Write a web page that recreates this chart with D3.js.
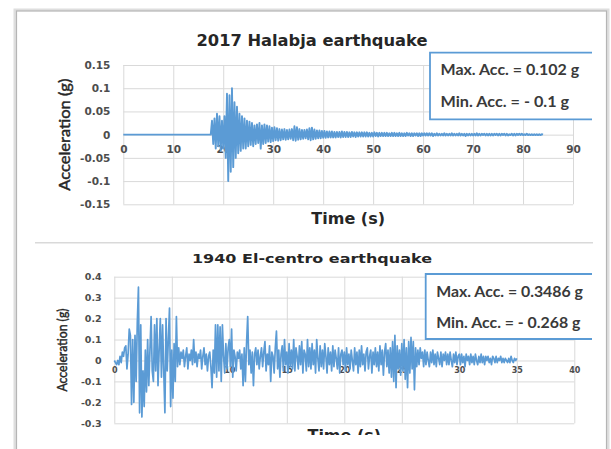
<!DOCTYPE html>
<meta charset="utf-8">
<title>Halabja and El-centro accelerograms</title>
<style>
  body { margin: 0; background: #fff; }
  .grid line { stroke: #d9d9d9; stroke-width: 1; }
  .grid path, .lbl path { display: none; }
  .lbl text { font-family: "DejaVu Sans", sans-serif; font-weight: bold; fill: #4d4d4d; }
  .trace { fill: none; stroke: #5b9bd5; stroke-linejoin: round; }
</style>
<script src="https://d3js.org/d3.v7.min.js"></script>
<body>
<script>
// 2017 Halabja record: flat until 17.5 s, then read every 0.25 s up to 84 s
var halabjaStart = 17.5, halabjaStep = 0.25;
var halabjaAcc = [
  0, 0.03, -0.02, 0.035,   -0.03, 0.045, -0.025, 0.04,   -0.035, 0.03, -0.03, 0.04,
  -0.05, 0.088, -0.10, 0.085,   -0.08, 0.10, -0.07, 0.07,   -0.05, 0.06, -0.04, 0.045,
  -0.035, 0.04, -0.03, 0.035,   -0.03, 0.03, -0.025, 0.028,   -0.022, 0.025, -0.025, 0.02,
  -0.02, 0.022, -0.018, 0.025,   -0.03, 0.02, -0.02, 0.022,   -0.018, 0.02, -0.015, 0.018,
  -0.016, 0.015, -0.014, 0.016,   -0.012, 0.014, -0.013, 0.012,   -0.012, 0.011, -0.01, 0.012,
  -0.011, 0.01, -0.01, 0.011,   -0.009, 0.012, -0.012, 0.018,   -0.013, 0.016, -0.011, 0.012,
  -0.01, 0.01, -0.009, 0.01,   -0.008, 0.011, -0.01, 0.014,   -0.012, 0.015, -0.01, 0.011,
  -0.009, 0.009, -0.008, 0.009,   -0.008, 0.008, -0.007, 0.008,   -0.007, 0.007, -0.006, 0.007,
  -0.006, 0.007, -0.006, 0.006,   -0.006, 0.006, -0.005, 0.006,   -0.006, 0.007, -0.005, 0.006,
  -0.005, 0.006, -0.005, 0.005,   -0.005, 0.006, -0.004, 0.005,   -0.005, 0.005, -0.004, 0.005,
  -0.004, 0.005, -0.004, 0.005,   -0.004, 0.005, -0.004, 0.004,   -0.004, 0.004, -0.004, 0.005,
  -0.003, 0.004, -0.004, 0.004,   -0.003, 0.004, -0.003, 0.004,   -0.003, 0.004, -0.003, 0.003,
  -0.003, 0.004, -0.003, 0.004,   -0.003, 0.003, -0.003, 0.004,   -0.003, 0.003, -0.003, 0.003,
  -0.003, 0.004, -0.002, 0.003,   -0.003, 0.003, -0.003, 0.003,   -0.002, 0.003, -0.003, 0.003,
  -0.003, 0.003, -0.002, 0.003,   -0.002, 0.003, -0.002, 0.003,   -0.002, 0.003, -0.003, 0.002,
  -0.002, 0.003, -0.002, 0.002,   -0.002, 0.002, -0.002, 0.003,   -0.002, 0.002, -0.002, 0.002,
  -0.002, 0.003, -0.002, 0.002,   -0.002, 0.002, -0.002, 0.003,   -0.002, 0.002, -0.002, 0.002,
  -0.003, 0.002, -0.002, 0.002,   -0.002, 0.002, -0.002, 0.002,   -0.002, 0.003, -0.002, 0.002,
  -0.002, 0.002, -0.001, 0.002,   -0.002, 0.002, -0.002, 0.002,   -0.002, 0.002, -0.002, 0.002,
  -0.001, 0.002, -0.002, 0.002,   -0.002, 0.002, -0.001, 0.002,   -0.002, 0.002, -0.002, 0.001,
  -0.001, 0.002, -0.002, 0.002,   -0.002, 0.002, -0.001, 0.002,   -0.001, 0.002, -0.001, 0.001,
  -0.001, 0.002, -0.001, 0.001,   -0.001, 0.001, -0.001, 0.001,   -0.001, 0.001, -0.001, 0.001,
  -0.001, 0.001, 0
];
var halabjaXTicks = [0, 10, 20, 30, 40, 50, 60, 70, 80, 90];
var halabjaYTicks = [-0.15, -0.1, -0.05, 0, 0.05, 0.1, 0.15];
var halabjaStats = ["Max. Acc. = 0.102 g", "Min. Acc. = - 0.1 g"];

// 1940 El-centro record, read every 0.1 s from 0 to 35 s
var elcentroStep = 0.1;
var elcentroAcc = [
  0, -0.01, -0.02, 0.00, -0.02, 0.02, -0.01, 0.04, 0.02, 0.06,
  0.07, -0.04, 0.03, 0.15, 0.12, -0.21, 0.10, -0.20, 0.12, -0.10,
  0.18, 0.35, -0.25, 0.17, -0.27, -0.05, -0.22, 0.05, -0.15, 0.10,
  -0.12, 0.05, 0.21, -0.05, -0.10, 0.17, -0.05, 0.20, -0.12, 0.05,
  0.20, -0.08, 0.17, -0.05, -0.25, 0.20, -0.05, 0.10, 0.25, -0.22,
  0.05, -0.18, 0.08, -0.10, 0.21, -0.03, 0.06, -0.02, 0.04, 0.01,
  0.05, -0.03, 0.02, 0.06, -0.04, 0.03, 0.00, 0.05, -0.02, 0.10,
  -0.01, 0.04, -0.03, 0.03, 0.01, 0.05, -0.04, 0.02, 0.06, -0.02,
  0.03, -0.05, 0.02, 0.04, -0.03, -0.13, 0.05, -0.06, 0.17, -0.08,
  0.17, -0.05, 0.16, -0.10, 0.17, 0.02, -0.06, 0.08, -0.04, 0.06,
  0.10, -0.03, 0.15, -0.08, 0.05, 0.02, -0.05, 0.04, 0.01, 0.05,
  -0.04, 0.03, -0.12, 0.06, -0.10, 0.08, 0.21, -0.02, 0.05, -0.06,
  0.04, -0.12, 0.03, 0.06, -0.02, 0.05, -0.04, 0.02, 0.06, -0.03,
  0.04, 0.09, -0.05, 0.03, -0.02, 0.07, -0.10, 0.04, 0.02, -0.06,
  0.06, 0.14, -0.04, 0.05, -0.08, 0.03, 0.07, -0.05, 0.10, -0.02,
  0.04, -0.06, 0.08, -0.03, 0.05, -0.04, 0.10, -0.05, 0.06, 0.02,
  -0.04, 0.07, -0.02, 0.09, -0.06, 0.05, 0.03, -0.05, 0.10, -0.03,
  0.06, -0.04, 0.08, -0.02, 0.05, -0.06, 0.10, 0.01, -0.05, 0.07,
  -0.03, 0.05, -0.04, 0.08, 0.02, -0.06, 0.06, -0.02, 0.04, -0.05,
  0.07, -0.03, 0.05, 0.01, -0.04, 0.06, -0.06, 0.03, 0.05, -0.02,
  0.04, -0.05, 0.06, -0.02, 0.03, -0.04, 0.05, 0.00, -0.05, 0.06,
  -0.02, 0.04, -0.06, 0.05, -0.03, 0.07, -0.02, 0.03, -0.05, 0.04,
  0.06, -0.04, 0.02, 0.05, -0.06, 0.04, -0.02, 0.06, -0.03, 0.04,
  -0.05, 0.07, -0.02, 0.05, -0.07, 0.04, 0.08, -0.03, 0.05, -0.06,
  0.06, -0.08, 0.09, -0.10, 0.12, -0.13, 0.07, -0.04, 0.05, -0.07,
  0.08, -0.05, 0.10, -0.09, 0.06, -0.13, 0.09, -0.06, 0.11, -0.04,
  0.09, -0.14, 0.06, -0.03, 0.05, -0.02, 0.06, 0.01, 0.04, -0.03,
  0.05, -0.02, 0.04, 0.00, -0.03, 0.04, -0.01, 0.05, -0.02, 0.03,
  -0.03, 0.04, 0.01, -0.02, 0.04, -0.03, 0.03, 0.00, 0.04, -0.02,
  0.03, -0.02, 0.04, 0.00, -0.03, 0.03, -0.01, 0.04, -0.02, 0.02,
  0.03, -0.02, 0.03, -0.01, 0.02, -0.03, 0.03, 0.00, 0.02, -0.02,
  0.03, -0.01, 0.02, -0.02, 0.03, 0.00, -0.02, 0.02, -0.01, 0.03,
  -0.01, 0.02, -0.02, 0.02, 0.00, 0.02, -0.01, 0.01, -0.02, 0.02,
  0.01, -0.01, 0.02, -0.01, 0.01, 0.00, 0.02, -0.01, 0.01, -0.01,
  0.01, 0.00, -0.01, 0.01, -0.01, 0.02, 0.00, -0.01, 0.01, 0.00,
  0.01
];
var elcentroXTicks = [0, 5, 10, 15, 20, 25, 30, 35, 40];
var elcentroYTicks = [-0.3, -0.2, -0.1, 0, 0.1, 0.2, 0.3, 0.4];
var elcentroStats = ["Max. Acc. = 0.3486 g", "Min. Acc. = - 0.268 g"];

var halabjaPts = [{t: 0, a: 0}].concat(halabjaAcc.map(function(a, i) {
  return {t: halabjaStart + i * halabjaStep, a: a};
}));
var elcentroPts = elcentroAcc.map(function(a, i) { return {t: i * elcentroStep, a: a}; });

var svg = d3.select("body").append("svg").attr("width", 611).attr("height", 449);

// outer frame with a soft shadow on the sides
svg.append("rect").attr("x", 15).attr("y", 10).attr("width", 593).attr("height", 470)
  .attr("fill", "none").attr("stroke", "#dedede").attr("stroke-width", 3);
svg.append("rect").attr("x", 16.5).attr("y", 11).attr("width", 590).attr("height", 470)
  .attr("fill", "#fff").attr("stroke", "#b5b5b5").attr("stroke-width", 1.2);

svg.append("line").attr("x1", 35).attr("x2", 593).attr("y1", 242.7).attr("y2", 242.7)
  .attr("stroke", "#d9d9d9").attr("stroke-width", 1.5);

svg.append("clipPath").attr("id", "cut").append("rect")
  .attr("x", 0).attr("y", 0).attr("width", 611).attr("height", 435);

var fmt = function(d) { return String(+d.toFixed(3)); };

function panel(o) {
  var g = svg.append("g").attr("clip-path", "url(#cut)");
  var x = d3.scaleLinear().domain(o.xDomain).range(o.xRange);
  var y = d3.scaleLinear().domain(o.yDomain).range(o.yRange);
  var w = o.xRange[1] - o.xRange[0], h = o.yRange[0] - o.yRange[1];

  g.append("g").attr("class", "grid").attr("transform", "translate(0," + o.yRange[0] + ")")
    .call(d3.axisBottom(x).tickValues(o.xTicks).tickSize(-h).tickFormat(""));
  g.append("g").attr("class", "grid").attr("transform", "translate(" + o.xRange[0] + ",0)")
    .call(d3.axisLeft(y).tickValues(o.yTicks).tickSize(-w).tickFormat(""));

  g.append("g").attr("class", "lbl").attr("transform", "translate(" + o.xRange[0] + ",0)")
    .call(d3.axisLeft(y).tickValues(o.yTicks).tickSize(0).tickPadding(o.yPad).tickFormat(fmt))
    .selectAll("text").style("font-size", o.yLblSize + "px");
  g.append("g").attr("class", "lbl").attr("transform", "translate(0," + y(0) + ")")
    .call(d3.axisBottom(x).tickValues(o.xTicks).tickSize(0).tickPadding(o.xPad).tickFormat(fmt))
    .selectAll("text").style("font-size", o.xLblSize + "px");

  g.append("path").datum(o.pts).attr("class", "trace").attr("stroke-width", o.lineW)
    .attr("d", d3.line().x(function(d) { return x(d.t); }).y(function(d) { return y(d.a); }));

  g.append("text").attr("x", 312).attr("y", o.titleY).attr("text-anchor", "middle")
    .attr("textLength", o.titleLen).attr("lengthAdjust", "spacingAndGlyphs")
    .style("font", "bold " + o.titleSize + "px 'DejaVu Sans'").attr("fill", "#262626")
    .text(o.title);

  g.append("text").attr("x", (o.xRange[0] + o.xRange[1]) / 2).attr("y", o.xTitleY)
    .attr("text-anchor", "middle")
    .style("font", "bold 16px 'DejaVu Sans'").attr("fill", "#262626").text("Time (s)");

  g.append("text").attr("transform", "translate(" + o.yTitleX + "," + (o.yRange[0] + o.yRange[1]) / 2 + ") rotate(-90)")
    .attr("text-anchor", "middle").attr("textLength", o.yTitleLen).attr("lengthAdjust", "spacingAndGlyphs")
    .style("font", o.yTitleSize + "px Lato").attr("fill", "#262626")
    .attr("stroke", "#262626").attr("stroke-width", 0.45).text("Acceleration (g)");

  // statistics box, open on its right side
  var b = o.box;
  g.append("rect").attr("x", b[0]).attr("y", b[1]).attr("width", 592 - b[0]).attr("height", b[2] - b[1])
    .attr("fill", "#fff");
  g.append("path").attr("d", "M592," + b[1] + "H" + b[0] + "V" + b[2] + "H592")
    .attr("fill", "none").attr("stroke", "#5b9bd5").attr("stroke-width", 1.8);
  g.selectAll(".stat").data(o.stats).enter().append("text")
    .attr("x", b[0] + 10.5).attr("y", function(d, i) { return o.statY[i]; })
    .attr("textLength", function(d, i) { return o.statLen[i]; }).attr("lengthAdjust", "spacingAndGlyphs")
    .style("font", "bold 15px Lato").attr("fill", "#3a3a3a").text(function(d) { return d; });
}

panel({
  pts: halabjaPts, xTicks: halabjaXTicks, yTicks: halabjaYTicks, stats: halabjaStats,
  title: "2017 Halabja earthquake", titleY: 45.7, titleSize: 15, titleLen: 231,
  xDomain: [0, 90], xRange: [123.3, 573], yDomain: [-0.15, 0.15], yRange: [204.3, 65],
  yPad: 13, yLblSize: 10.5, xPad: 10.5, xLblSize: 10.5, lineW: 1.9,
  xTitleY: 224, yTitleX: 70, yTitleSize: 16, yTitleLen: 112,
  box: [430, 52.7, 119.3], statY: [75.3, 106.7], statLen: [138.6, 128.6]
});

panel({
  pts: elcentroPts, xTicks: elcentroXTicks, yTicks: elcentroYTicks, stats: elcentroStats,
  title: "1940 El-centro earthquake", titleY: 262.7, titleSize: 12.5, titleLen: 240,
  xDomain: [0, 40], xRange: [114.3, 574.3], yDomain: [-0.3, 0.4], yRange: [423.3, 276.7],
  yPad: 12.6, yLblSize: 9.5, xPad: 7, xLblSize: 8, lineW: 1.7,
  xTitleY: 440.5, yTitleX: 67, yTitleSize: 14, yTitleLen: 83,
  box: [425.7, 274, 339], statY: [296.7, 327.7], statLen: [146.7, 144.3]
});
</script>
</body>
